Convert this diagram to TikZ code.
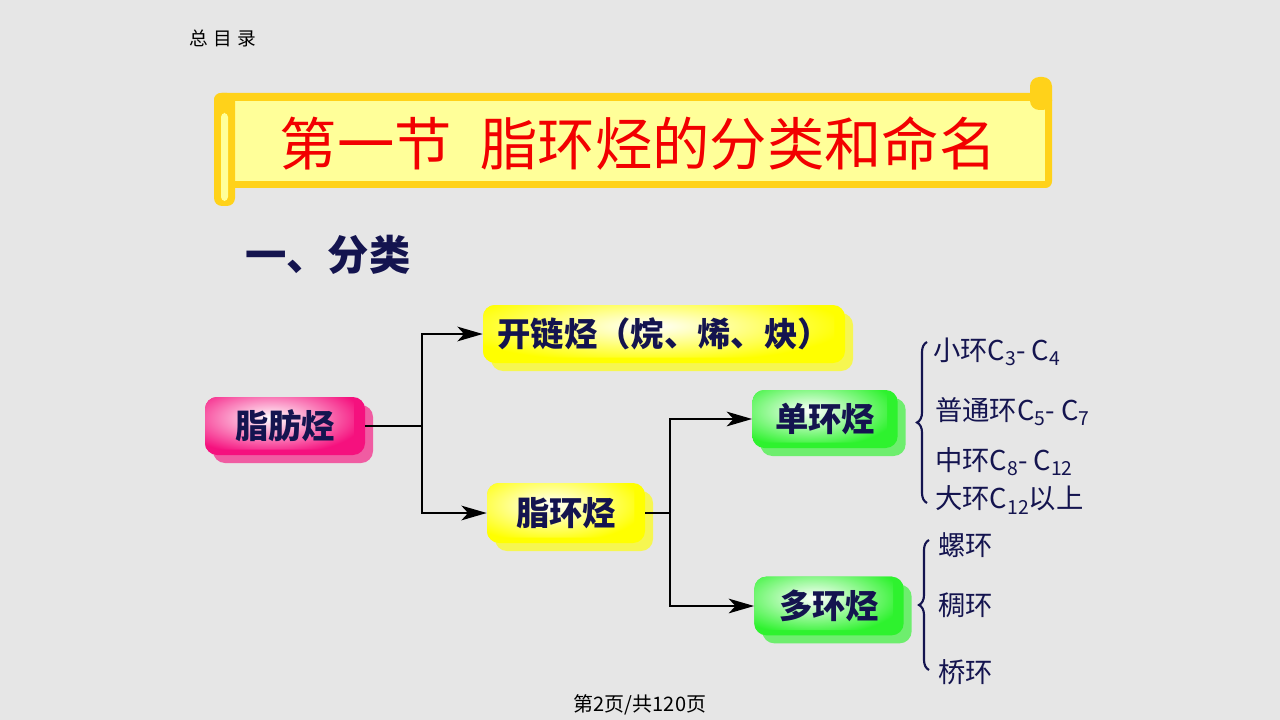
\documentclass[tikz,border=0pt]{standalone}
\usepackage{fontspec}
\setmainfont{Noto Sans CJK SC}
\usetikzlibrary{arrows.meta,shadows,decorations.pathreplacing,calc}
\definecolor{bg}{HTML}{E6E6E6}
\definecolor{navy}{HTML}{14144F}
\definecolor{titlered}{HTML}{F20000}
\definecolor{scb}{HTML}{FFD21A}
\definecolor{scy}{HTML}{FFFF99}
\definecolor{pinkc}{HTML}{F5117E}
\definecolor{yelc}{HTML}{FFFF00}
\definecolor{grnc}{HTML}{2EF22E}
\newcommand\sbs[1]{\raisebox{-0.35ex}{\fontsize{14.5}{14.5}\selectfont #1}}
\tikzset{
  box/.style={rounded corners=9pt, fill=#1, text=navy, inner sep=0pt,
    font=\bfseries\fontsize{25}{25}\selectfont,
    drop shadow={shadow xshift=6pt, shadow yshift=-6pt, fill=#1!65!bg, opacity=1},
    path picture={\shade[inner color=white, outer color=#1]
      ($(path picture bounding box.north west)+(-22pt,12pt)$) rectangle
      ($(path picture bounding box.south east)+(-8pt,4pt)$);}},
  conn/.style={line width=1.5pt, black},
  arr/.style={conn, -{Stealth[length=19pt, width=11pt, inset=5pt]}},
  lab/.style={anchor=west, text=navy, inner sep=0pt, font=\fontsize{20.5}{20.5}\selectfont},
  bracestyle/.style={line width=1.6pt, navy, decorate, decoration={brace, amplitude=7.5pt}}
}
\begin{document}
\begin{tikzpicture}[x=0.75pt, y=-0.75pt]
\useasboundingbox (0,0) rectangle (1280,720);
\fill[bg] (0,0) rectangle (1280,720);

% header
\node[inner sep=0pt, font=\fontsize{14}{14}\selectfont] (hdr) at (223,38) {总\hspace{0.3em}目\hspace{0.3em}录};

% scroll banner
\fill[scb, rounded corners=5pt] (214,93) rectangle (1052,188);
\fill[scy] (235,101) rectangle (1045,181);
\fill[scb, rounded corners=6pt] (214,93) rectangle (235,206);
\fill[scy, rounded corners=3pt] (221,113) rectangle (228,201);
\fill[scb, rounded corners=7pt] (1030,77) rectangle (1052,110);
\node[inner sep=0pt, text=titlered, font=\fontsize{43}{43}\selectfont] (title) at (638,143) {第一节\hspace{0.5em}脂环烃的分类和命名};

% section heading
\node[anchor=west, inner sep=0pt, text=navy, font=\bfseries\fontsize{31}{31}\selectfont] (sec) at (245,255) {一、分类};

% boxes
\node[box=pinkc, minimum width=120pt, minimum height=43.5pt] (fat) at (285,426) {脂肪烃};
\node[box=yelc, minimum width=271.5pt, minimum height=43.5pt] (open) at (664,334) {开链烃（烷、烯、炔）};
\node[box=yelc, minimum width=118.5pt, minimum height=45pt] (ali) at (566,513) {脂环烃};
\node[box=grnc, minimum width=109pt, minimum height=43.5pt] (mono) at (825,419) {单环烃};
\node[box=grnc, minimum width=112pt, minimum height=44pt] (poly) at (829,606) {多环烃};

% connectors
\coordinate (j1) at (422,426);
\coordinate (j2) at (670,513);
\draw[conn] (fat.east) -- (j1);
\draw[arr] (j1) |- (open.west);
\draw[arr] (j1) |- (ali.west);
\draw[conn] (ali.east) -- (j2);
\draw[arr] (j2) |- (mono.west);
\draw[arr] (j2) |- (poly.west);

% braces
\coordinate (b1t) at (927,342);
\coordinate (b1b) at (927,503);
\coordinate (b2t) at (929,540);
\coordinate (b2b) at (929,670);
\draw[bracestyle] (b1b) -- (b1t);
\draw[bracestyle] (b2b) -- (b2t);

% labels
\node[lab] (l1) at (933,352) {小环C\sbs{3}- C\sbs{4}};
\node[lab] (l2) at (935,412) {普通环C\sbs{5}- C\sbs{7}};
\node[lab] (l3) at (935,462) {中环C\sbs{8}- C\sbs{12}};
\node[lab] (l4) at (935,500) {大环C\sbs{12}以上};
\node[lab] (l5) at (938,545) {螺环};
\node[lab] (l6) at (938,605) {稠环};
\node[lab] (l7) at (938,672) {桥环};

% footer
\node[inner sep=0pt, font=\fontsize{15}{15}\selectfont] (foot) at (640,705) {第2页/共120页};
\end{tikzpicture}
\end{document}
